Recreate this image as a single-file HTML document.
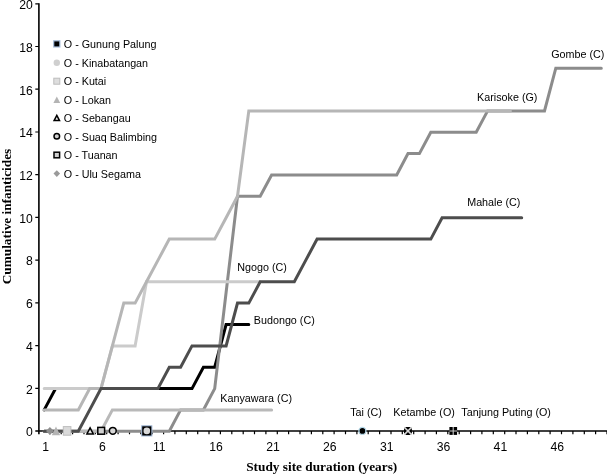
<!DOCTYPE html>
<html><head><meta charset="utf-8"><title>Cumulative infanticides</title>
<style>
html,body{margin:0;padding:0;background:#fff;}
body{width:607px;height:474px;overflow:hidden;}
svg{display:block;will-change:transform;}
text{font-family:"Liberation Sans",sans-serif;font-size:10.75px;fill:#000;}
text.k{font-size:12.2px;}
.t{font-family:"Liberation Serif",serif;font-weight:bold;font-size:13.3px;}
</style></head><body>
<svg width="607" height="474" viewBox="0 0 607 474">
<rect width="607" height="474" fill="#fff"/>

<g stroke="#000" stroke-width="1.6" fill="none">
<path d="M38.9 3.3 V434.3"/>
<path d="M35.3 431 H607"/>
</g>
<g stroke="#000" stroke-width="1.2" fill="none">
<path d="M35.3 388.3 H38.7 M35.3 345.6 H38.7 M35.3 302.8 H38.7 M35.3 260.1 H38.7 M35.3 217.4 H38.7 M35.3 174.7 H38.7 M35.3 132.0 H38.7 M35.3 89.2 H38.7 M35.3 46.5 H38.7 M35.3 3.8 H38.7"/>
<path d="M49.9 431 V434.3 M61.2 431 V434.3 M72.6 431 V434.3 M84.0 431 V434.3 M95.3 431 V434.3 M106.7 431 V434.3 M118.1 431 V434.3 M129.5 431 V434.3 M140.8 431 V434.3 M152.2 431 V434.3 M163.6 431 V434.3 M174.9 431 V434.3 M186.3 431 V434.3 M197.7 431 V434.3 M209.0 431 V434.3 M220.4 431 V434.3 M231.8 431 V434.3 M243.2 431 V434.3 M254.5 431 V434.3 M265.9 431 V434.3 M277.3 431 V434.3 M288.6 431 V434.3 M300.0 431 V434.3 M311.4 431 V434.3 M322.8 431 V434.3 M334.1 431 V434.3 M345.5 431 V434.3 M356.9 431 V434.3 M368.2 431 V434.3 M379.6 431 V434.3 M391.0 431 V434.3 M402.3 431 V434.3 M413.7 431 V434.3 M425.1 431 V434.3 M436.4 431 V434.3 M447.8 431 V434.3 M459.2 431 V434.3 M470.6 431 V434.3 M481.9 431 V434.3 M493.3 431 V434.3 M504.7 431 V434.3 M516.0 431 V434.3 M527.4 431 V434.3 M538.8 431 V434.3 M550.1 431 V434.3 M561.5 431 V434.3 M572.9 431 V434.3 M584.3 431 V434.3 M595.6 431 V434.3 M607.0 431 V434.3"/>
</g>
<text class="k" x="32.9" y="436.3" text-anchor="end">0</text>
<text class="k" x="32.9" y="393.6" text-anchor="end">2</text>
<text class="k" x="32.9" y="350.9" text-anchor="end">4</text>
<text class="k" x="32.9" y="308.1" text-anchor="end">6</text>
<text class="k" x="32.9" y="265.4" text-anchor="end">8</text>
<text class="k" x="32.9" y="222.7" text-anchor="end">10</text>
<text class="k" x="32.9" y="180.0" text-anchor="end">12</text>
<text class="k" x="32.9" y="137.3" text-anchor="end">14</text>
<text class="k" x="32.9" y="94.5" text-anchor="end">16</text>
<text class="k" x="32.9" y="51.8" text-anchor="end">18</text>
<text class="k" x="32.9" y="9.1" text-anchor="end">20</text>
<text class="k" x="45.6" y="451.3" text-anchor="middle">1</text>
<text class="k" x="102.4" y="451.3" text-anchor="middle">6</text>
<text class="k" x="159.3" y="451.3" text-anchor="middle">11</text>
<text class="k" x="216.1" y="451.3" text-anchor="middle">16</text>
<text class="k" x="273.0" y="451.3" text-anchor="middle">21</text>
<text class="k" x="329.8" y="451.3" text-anchor="middle">26</text>
<text class="k" x="386.7" y="451.3" text-anchor="middle">31</text>
<text class="k" x="443.5" y="451.3" text-anchor="middle">36</text>
<text class="k" x="500.4" y="451.3" text-anchor="middle">41</text>
<text class="k" x="557.2" y="451.3" text-anchor="middle">46</text>
<g fill="none" stroke-width="3.0" stroke-linejoin="miter" stroke-linecap="round">
<polyline stroke="#000000" points="44.2,409.9 55.6,388.6 66.9,388.6 78.3,388.6 89.7,388.6 101.0,388.6 112.4,388.6 123.8,388.6 135.1,388.6 146.5,388.6 157.9,388.6 169.3,388.6 180.6,388.6 192.0,388.6 203.4,367.2 214.7,367.2 226.1,324.5 237.5,324.5 248.8,324.5"/>
<polyline stroke="#8c8c8c" points="44.2,431.3 55.6,431.3 66.9,431.3 78.3,431.3 89.7,431.3 101.0,431.3 112.4,431.3 123.8,431.3 135.1,431.3 146.5,431.3 157.9,431.3 169.3,431.3 180.6,409.9 192.0,409.9 203.4,409.9 214.7,388.6 226.1,292.5 237.5,196.3 248.8,196.3 260.2,196.3 271.6,175.0 283.0,175.0 294.3,175.0 305.7,175.0 317.1,175.0 328.4,175.0 339.8,175.0 351.2,175.0 362.5,175.0 373.9,175.0 385.3,175.0 396.7,175.0 408.0,153.6 419.4,153.6 430.8,132.3 442.1,132.3 453.5,132.3 464.9,132.3 476.2,132.3 487.6,110.9 499.0,110.9 510.4,110.9 521.7,110.9 533.1,110.9 544.5,110.9 555.8,68.2 567.2,68.2 578.6,68.2 589.9,68.2 601.3,68.2"/>
<polyline stroke="#b9b9b9" points="44.2,431.3 55.6,431.3 66.9,431.3 78.3,431.3 89.7,431.3 101.0,431.3 112.4,409.9 123.8,409.9 135.1,409.9 146.5,409.9 157.9,409.9 169.3,409.9 180.6,409.9 192.0,409.9 203.4,409.9 214.7,409.9 226.1,409.9 237.5,409.9 248.8,409.9 260.2,409.9 271.6,409.9"/>
<polyline stroke="#cbcbcb" points="44.2,388.6 55.6,388.6 66.9,388.6 78.3,388.6 89.7,388.6 101.0,388.6 112.4,345.9 123.8,345.9 135.1,345.9 146.5,281.8 157.9,281.8 169.3,281.8 180.6,281.8 192.0,281.8 203.4,281.8 214.7,281.8 226.1,281.8 237.5,281.8 248.8,281.8 260.2,281.8"/>
<polyline stroke="#b6b6b6" points="44.2,409.9 55.6,409.9 66.9,409.9 78.3,409.9 89.7,388.6 101.0,388.6 112.4,345.9 123.8,303.1 135.1,303.1 146.5,281.8 157.9,260.4 169.3,239.1 180.6,239.1 192.0,239.1 203.4,239.1 214.7,239.1 226.1,217.7 237.5,196.3 248.8,110.9 260.2,110.9 271.6,110.9 283.0,110.9 294.3,110.9 305.7,110.9 317.1,110.9 328.4,110.9 339.8,110.9 351.2,110.9 362.5,110.9 373.9,110.9 385.3,110.9 396.7,110.9 408.0,110.9 419.4,110.9 430.8,110.9 442.1,110.9 453.5,110.9 464.9,110.9 476.2,110.9 487.6,110.9 499.0,110.9 510.4,110.9"/>
<polyline stroke="#4d4d4d" points="44.2,431.3 55.6,431.3 66.9,431.3 78.3,431.3 89.7,409.9 101.0,388.6 112.4,388.6 123.8,388.6 135.1,388.6 146.5,388.6 157.9,388.6 169.3,367.2 180.6,367.2 192.0,345.9 203.4,345.9 214.7,345.9 226.1,345.9 237.5,303.1 248.8,303.1 260.2,281.8 271.6,281.8 283.0,281.8 294.3,281.8 305.7,260.4 317.1,239.1 328.4,239.1 339.8,239.1 351.2,239.1 362.5,239.1 373.9,239.1 385.3,239.1 396.7,239.1 408.0,239.1 419.4,239.1 430.8,239.1 442.1,217.7 453.5,217.7 464.9,217.7 476.2,217.7 487.6,217.7 499.0,217.7 510.4,217.7 521.7,217.7"/>
</g>
<path d="M49.9 427.0 l3.9 4 l-3.9 4 l-3.9 -4 z" fill="#8f8f8f"/>
<path d="M56.0 426.6 l4.2 8.6 h-8.4 z" fill="#b4b4b4"/>
<rect x="63.3" y="426.6" width="7.6" height="8.6" fill="#dadada" stroke="#bdbdbd" stroke-width="1"/>
<path d="M90.1 427.9 l3.2 6 h-6.4 z" fill="#e8e8e8" stroke="#000" stroke-width="1.5" stroke-linejoin="miter"/>
<rect x="97.8" y="427.4" width="6.8" height="6.8" fill="#d0d0d0" stroke="#000" stroke-width="1.5"/>
<circle cx="112.8" cy="430.8" r="3.4" fill="#d8d8d8" stroke="#000" stroke-width="1.5"/>
<rect x="141.7" y="425.8" width="10.2" height="10.2" fill="#000" stroke="#a9bfdc" stroke-width="1"/>
<circle cx="146.8" cy="430.9" r="3.3" fill="#d8d8d8"/>
<circle cx="362.4" cy="430.9" r="3.5" fill="#000" stroke="#b5d9ea" stroke-width="1.3"/>
<rect x="404" y="427" width="7.9" height="7.9" rx="2.4" fill="#000"/>
<path d="M404.3 427.3 L411.6 434.6 M411.6 427.3 L404.3 434.6" stroke="#d8d8d8" stroke-width="1.5" fill="none"/>
<rect x="449.4" y="427" width="7.7" height="7.9" fill="#000"/>
<path d="M453.2 427 V434.9 M449.4 431.0 H457.1" stroke="#c8c8c8" stroke-width="1.1" fill="none"/>
<text x="63.8" y="48.1">O - Gunung Palung</text>
<text x="63.8" y="66.9">O - Kinabatangan</text>
<text x="63.8" y="85.4">O - Kutai</text>
<text x="63.8" y="104.0">O - Lokan</text>
<text x="63.8" y="122.3">O - Sebangau</text>
<text x="63.8" y="140.5">O - Suaq Balimbing</text>
<text x="63.8" y="159.2">O - Tuanan</text>
<text x="63.8" y="177.8">O - Ulu Segama</text>
<rect x="53.7" y="40.8" width="6.2" height="6.2" fill="#000" stroke="#a9bfdc" stroke-width="1.2"/>
<circle cx="56.8" cy="62.7" r="3.2" fill="#cfcfcf"/>
<rect x="53.8" y="78.2" width="6" height="6" fill="#dedede" stroke="#bdbdbd" stroke-width="1"/>
<path d="M56.8 96.5 l3.4 6.4 h-6.8 z" fill="#b4b4b4"/>
<path d="M56.8 115.4 l2.7 5.2 h-5.4 z" fill="#eee" stroke="#000" stroke-width="1.5"/>
<circle cx="56.8" cy="136.3" r="2.8" fill="#d0d0d0" stroke="#000" stroke-width="1.5"/>
<rect x="54.0" y="152.2" width="5.6" height="5.6" fill="#d0d0d0" stroke="#000" stroke-width="1.5"/>
<path d="M56.8 170.3 l3.3 3.3 l-3.3 3.3 l-3.3 -3.3 z" fill="#9a9a9a"/>
<text x="237.3" y="271.1">Ngogo (C)</text>
<text x="253.8" y="324.4">Budongo (C)</text>
<text x="220.3" y="401.9">Kanyawara (C)</text>
<text x="350.2" y="416.4">Tai (C)</text>
<text x="393.3" y="416.4">Ketambe (O)</text>
<text x="461.3" y="416.4">Tanjung Puting (O)</text>
<text x="467.2" y="206.3">Mahale (C)</text>
<text x="477.1" y="101.4">Karisoke (G)</text>
<text x="551.2" y="57.6">Gombe (C)</text>
<text class="t" x="246.2" y="471">Study site duration (years)</text>
<text class="t" transform="translate(10.8 284.3) rotate(-90)" x="0" y="0">Cumulative infanticides</text>
</svg>
</body></html>
